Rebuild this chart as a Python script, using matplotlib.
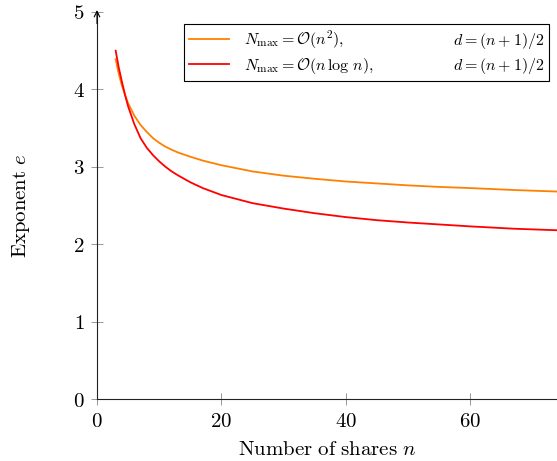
import matplotlib
matplotlib.use("Agg")
import matplotlib.pyplot as plt
from matplotlib.lines import Line2D

plt.rcParams['mathtext.fontset'] = 'cm'
plt.rcParams['font.family'] = ['DejaVu Serif']

# data
n_vals = [3, 3.5, 4, 4.5, 5, 6, 7, 8, 9, 10, 11, 12, 13, 15, 17, 20, 25, 30, 35, 40, 45, 50, 55, 60, 67, 74]
e_n2 = [4.39, 4.20, 4.05, 3.93, 3.82, 3.66, 3.54, 3.45, 3.37, 3.31, 3.26, 3.22, 3.185, 3.13, 3.08,
        3.02, 2.94, 2.885, 2.845, 2.81, 2.785, 2.76, 2.74, 2.725, 2.70, 2.68]
e_nlogn = [4.50, 4.28, 4.10, 3.93, 3.78, 3.55, 3.37, 3.245, 3.15, 3.07, 3.00, 2.94, 2.89, 2.80, 2.725,
           2.635, 2.53, 2.46, 2.40, 2.35, 2.31, 2.28, 2.255, 2.23, 2.20, 2.18]
x_ticks = [0, 20, 40, 60]
y_ticks = [0, 1, 2, 3, 4, 5]
labels_left = [r'$N_{\max} = \mathcal{O}(n^2),$', r'$N_{\max} = \mathcal{O}(n\,\log\, n),$']
labels_right = [r'$d = (n+1)/2$', r'$d = (n+1)/2$']

fig = plt.figure(figsize=(5.57, 4.61), dpi=100)
ax = fig.add_axes([97/557, 62/461, 460/557, 387/461])

ax.plot(n_vals, e_n2, color='#FF8000', lw=1.3, label=labels_left[0], clip_on=False)
ax.plot(n_vals, e_nlogn, color='#FF0000', lw=1.3, label=labels_left[1], clip_on=False)

ax.set_xlim(0, 73.9)
ax.set_ylim(0, 5)
ax.spines['top'].set_visible(False)
ax.spines['right'].set_visible(False)
for s in ['left', 'bottom']:
    ax.spines[s].set_linewidth(0.8)
    ax.spines[s].set_color('#222222')

ax.set_xticks(x_ticks)
ax.set_xticklabels([f'${v}$' for v in x_ticks], fontsize=15)
ax.set_yticks(y_ticks)
ax.set_yticklabels([f'${v}$' for v in y_ticks], fontsize=15)
ax.tick_params(direction='inout', length=8, width=0.6, color='#888888', pad=5)

ax.set_xlabel(r'$\mathrm{Number\ of\ shares}\ n$', fontsize=15, labelpad=7)
ax.set_ylabel(r'$\mathrm{Exponent}\ e$', fontsize=15, labelpad=29)

# arrow at top of y axis
ax.annotate('', xy=(0, 1.005), xytext=(0, 0.97), xycoords='axes fraction',
            arrowprops=dict(arrowstyle='->', lw=0.8, color='black', shrinkA=0, shrinkB=0))

h1, h2 = ax.get_lines()
blank = Line2D([], [], color='none')
leg = ax.legend([h1, h2, blank, blank], labels_left + labels_right, ncol=2,
                loc='upper right', bbox_to_anchor=(0.983, 0.969), borderaxespad=0,
                fontsize=11.5, frameon=True, fancybox=False, framealpha=1,
                edgecolor='black', handlelength=2.5, handletextpad=0.9,
                columnspacing=1.6, borderpad=0.3, labelspacing=0.3)
leg.get_frame().set_linewidth(0.8)

fig.savefig('out.png', dpi=100)
